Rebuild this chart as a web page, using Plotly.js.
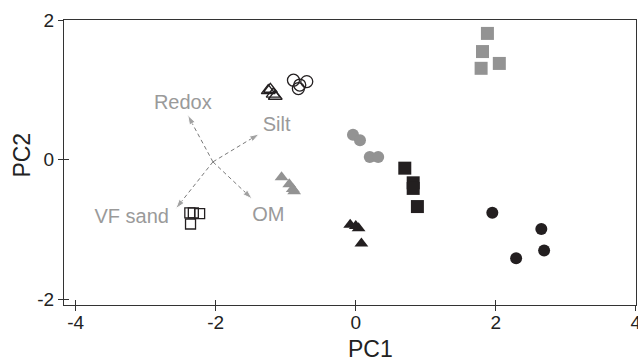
<!DOCTYPE html>
<html><head><meta charset="utf-8">
<script src="https://cdn.plot.ly/plotly-3.0.1.min.js"></script>
<style>html,body{margin:0;padding:0;background:#fff}#chart{width:638px;height:363px}</style>
</head><body><div id="chart"></div>
<script>
// Data (PC scores)
var graySqX = [1.88, 1.81, 2.05, 1.79];
var graySqY = [1.81, 1.55, 1.38, 1.31];
var grayCircX = [-0.04, 0.06, 0.20, 0.32];
var grayCircY = [0.36, 0.28, 0.04, 0.04];
var grayTriX = [-1.06, -0.95, -0.90, -0.88];
var grayTriY = [-0.25, -0.35, -0.42, -0.45];
var blackSqX = [0.70, 0.82, 0.82, 0.88];
var blackSqY = [-0.12, -0.33, -0.41, -0.67];
var blackCircX = [1.95, 2.65, 2.69, 2.29];
var blackCircY = [-0.76, -0.99, -1.30, -1.41];
var blackTriX = [-0.08, 0.00, 0.04, 0.08];
var blackTriY = [-0.93, -0.95, -0.98, -1.20];
var openSqX = [-2.37, -2.32, -2.23, -2.36];
var openSqY = [-0.76, -0.76, -0.77, -0.92];
var openCircX = [-0.89, -0.80, -0.70, -0.82];
var openCircY = [1.14, 1.07, 1.12, 1.02];
var openTriX = [-1.25, -1.22, -1.18, -1.15];
var openTriY = [0.99, 1.01, 0.94, 0.91];

// Loading vectors
var vecOrigin = [-2.04, -0.03];
var vecNames = ['Redox', 'Silt', 'VF sand', 'OM'];
var vecTipX = [-2.40, -1.38, -2.57, -1.48];
var vecTipY = [0.64, 0.37, -0.70, -0.56];
var vecLabelX = [-2.47, -1.13, -3.20, -1.25];
var vecLabelY = [0.80, 0.48, -0.84, -0.81];

var xTicks = [-4, -2, 0, 2, 4];
var xTickText = ['-4', '-2', '0', '2', '4'];
var yTicks = [-2, 0, 2];
var yTickText = ['-2', '0', '2'];

var GRAY = '#939393', BLACK = '#231f20', TXT = '#9a9a9a';
function pts(x, y, sym, color, size, open) {
  return {x: x, y: y, type: 'scatter', mode: 'markers', hoverinfo: 'skip',
    marker: {symbol: sym, size: size, color: open ? 'rgba(0,0,0,0)' : color,
      line: {color: open ? BLACK : color, width: open ? 1.3 : 0}}};
}
var traces = [];
for (var i = 0; i < vecNames.length; i++) {
  traces.push({x: [vecOrigin[0], vecTipX[i]], y: [vecOrigin[1], vecTipY[i]],
    type: 'scatter', mode: 'lines+markers', hoverinfo: 'skip',
    line: {color: '#7a7a7a', width: 1, dash: '4px,3px'},
    marker: {symbol: 'arrow', size: [0, 10], angleref: 'previous', color: '#7a7a7a'}});
}
traces.push(pts(graySqX, graySqY, 'square', GRAY, 13, false));
traces.push(pts(grayCircX, grayCircY, 'circle', GRAY, 12, false));
traces.push(pts(grayTriX, grayTriY, 'triangle-up', GRAY, 12, false));
traces.push(pts(blackSqX, blackSqY, 'square', BLACK, 13, false));
traces.push(pts(blackCircX, blackCircY, 'circle', BLACK, 12, false));
traces.push(pts(blackTriX, blackTriY, 'triangle-up', BLACK, 12, false));
traces.push(pts(openSqX, openSqY, 'square', BLACK, 10, true));
traces.push(pts(openCircX, openCircY, 'circle', BLACK, 12, true));
traces.push(pts(openTriX, openTriY, 'triangle-up', BLACK, 12, true));
traces.push({x: vecLabelX, y: vecLabelY, text: vecNames, type: 'scatter', mode: 'text',
  hoverinfo: 'skip', textfont: {family: 'Arial, Liberation Sans, sans-serif', size: 20, color: TXT}});

var FONT = 'Arial, Liberation Sans, sans-serif';
var axBase = {showgrid: false, zeroline: false, showline: true, linecolor: '#333', linewidth: 1,
  ticks: 'outside', ticklen: 5, tickcolor: '#333', tickwidth: 1, ticklabeloverflow: 'allow',
  tickfont: {family: FONT, size: 19, color: '#222'}, mirror: true};
var layout = {
  width: 638, height: 363, showlegend: false,
  paper_bgcolor: '#fff', plot_bgcolor: '#fff',
  margin: {l: 64, r: 2, t: 20, b: 58},
  xaxis: Object.assign({}, axBase, {range: [-4.167, 4.002], tickvals: xTicks, ticktext: xTickText, ticks: 'inside'}),
  yaxis: Object.assign({}, axBase, {range: [-2.08, 2.002], tickvals: yTicks, ticktext: yTickText}),
  xaxis2: {overlaying: 'x', anchor: 'y', side: 'bottom', range: [-4.167, 4.002], tickvals: xTicks,
    showticklabels: false, ticks: 'outside', ticklen: 5, tickcolor: '#333', showgrid: false, zeroline: false, showline: false},
  yaxis2: {overlaying: 'y', anchor: 'x', side: 'left', range: [-2.08, 2.002], tickvals: yTicks,
    showticklabels: false, ticks: 'inside', ticklen: 5, tickcolor: '#333', showgrid: false, zeroline: false, showline: false},
  annotations: [
    {text: 'PC1', xref: 'paper', yref: 'paper', x: 0.535, y: -0.155, xanchor: 'center', yanchor: 'middle',
      showarrow: false, font: {family: FONT, size: 23, color: '#222'}},
    {text: 'PC2', xref: 'paper', yref: 'paper', x: -0.073, y: 0.525, xanchor: 'center', yanchor: 'middle',
      textangle: -90, showarrow: false, font: {family: FONT, size: 23, color: '#222'}}
  ]
};
traces.push({x: [null], y: [null], xaxis: 'x2', yaxis: 'y2', type: 'scatter', mode: 'markers', hoverinfo: 'skip'});
Plotly.newPlot('chart', traces, layout, {staticPlot: true, displayModeBar: false});
</script></body></html>
